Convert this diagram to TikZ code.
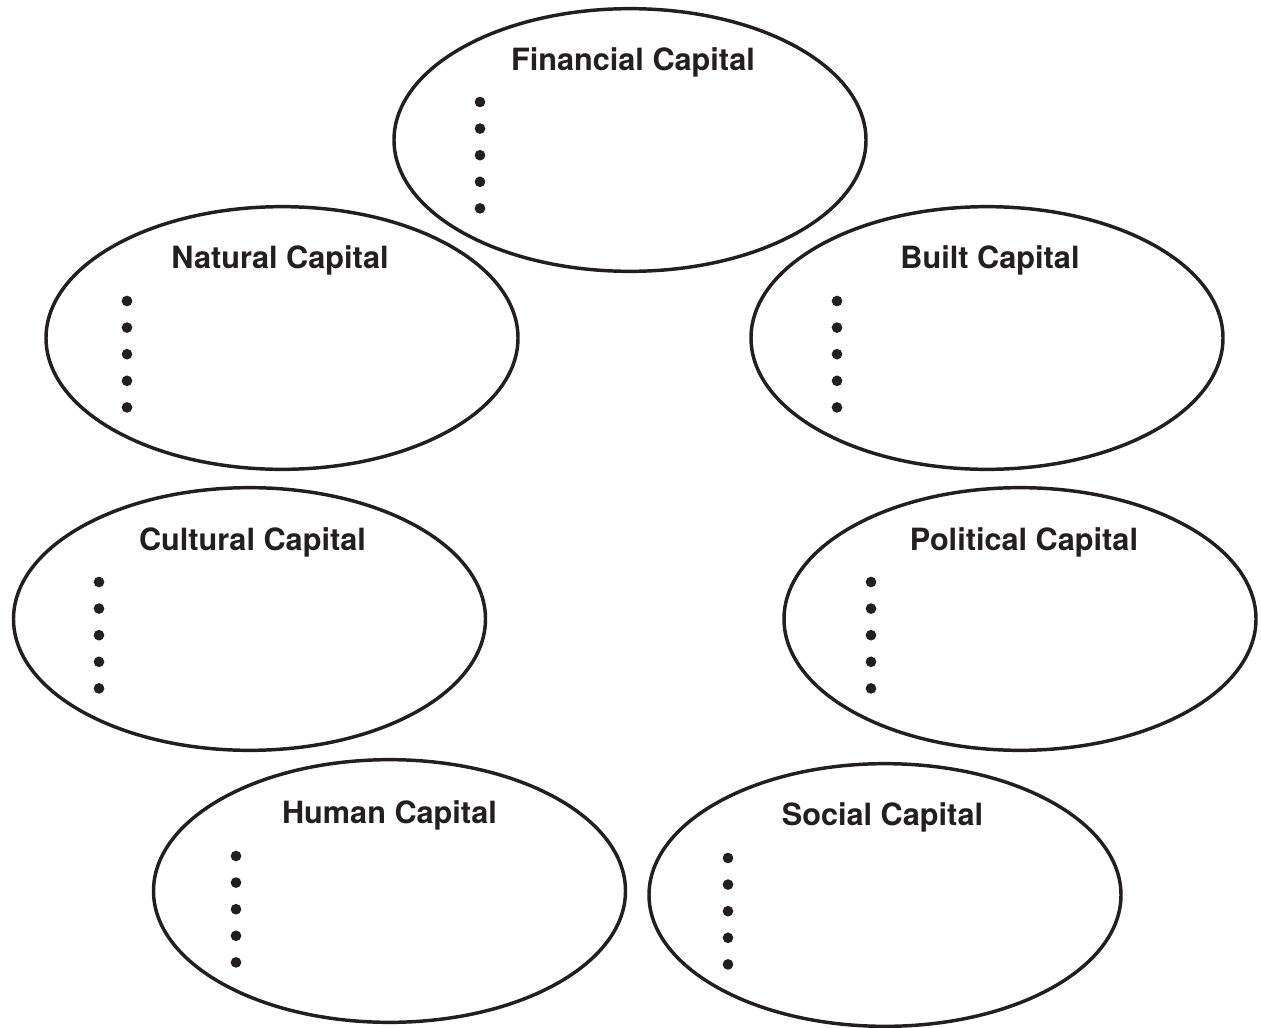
\documentclass[tikz,border=0pt]{standalone}
\usepackage{fontspec}
\setmainfont{TeX Gyre Heros}
\usetikzlibrary{shapes.geometric}
\definecolor{ink}{RGB}{35,31,32}
\tikzset{
  capell/.style={ellipse, draw=ink, line width=2.6pt, minimum width=354pt, minimum height=197pt, inner sep=0pt},
  captitle/.style={anchor=base, font=\fontsize{23}{27}\selectfont\bfseries, text=ink, inner sep=0pt},
  bulletdot/.style={fill=ink}
}
% #1 name, #2 title, #3 cx, #4 cy, #5 tx, #6 ty, #7 dot x, #8 first dot y
\newcommand\capgroup[8]{%
  \node[capell] (#1) at (#3,#4) {};
  \node[captitle] (#1-title) at (#5,#6) {#2};
  \foreach \k in {0,...,4} {\fill[bulletdot] (#7,{#8+26.6*\k}) circle (4pt);}
}
\begin{document}
\begin{tikzpicture}[x=0.75pt,y=-0.75pt]
  \useasboundingbox (0,0) rectangle (1261,1028);
  \capgroup{fin}{Financial Capital}{630}{140}{633}{70}{480}{102}
  \capgroup{nat}{Natural Capital}{282}{338}{280}{268}{127}{301}
  \capgroup{bui}{Built Capital}{987}{338}{990}{268}{837}{301}
  \capgroup{cul}{Cultural Capital}{249.5}{619}{252.5}{550}{99}{582}
  \capgroup{pol}{Political Capital}{1020}{619}{1024}{550}{871}{582}
  \capgroup{hum}{Human Capital}{389.5}{891}{389.5}{823}{236}{856}
  \capgroup{soc}{Social Capital}{885}{895}{882.5}{825}{728}{858}
\end{tikzpicture}
\end{document}
